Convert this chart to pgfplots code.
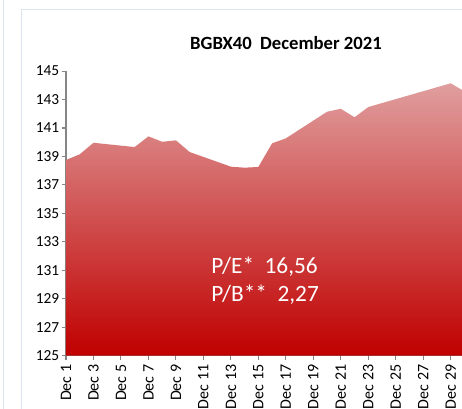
\documentclass[border=0pt]{standalone}
\usepackage{fontspec}
\setmainfont{Carlito}
\usepackage{pgfplots}
\pgfplotsset{compat=1.18}
\definecolor{topred}{RGB}{224,158,158}
\definecolor{botred}{RGB}{192,0,0}
\definecolor{axgray}{RGB}{134,134,134}
\definecolor{framec}{RGB}{218,227,238}
\begin{document}
\begin{tikzpicture}
\draw[framec, line width=0.75pt] (3pt,0) -- (3pt,-306.75pt);
\draw[framec, line width=0.75pt] (16.5pt,-306.75pt) -- (16.5pt,-7.5pt) -- (346.5pt,-7.5pt);
\begin{axis}[
  at={(49.5pt,-266.78pt)}, anchor=south west,
  scale only axis,
  width=309.15pt, height=213.5pt,
  xmin=1, xmax=31, ymin=125, ymax=145,
  axis x line*=bottom, axis y line*=left,
  axis line style={axgray, line width=1pt, -},
  tick align=outside,
  major tick length=3pt,
  tick style={axgray, line width=0.8pt},
  ytick={125,127,...,145},
  xtick={1,3,...,29},
  xticklabels={Dec 1,Dec 3,Dec 5,Dec 7,Dec 9,Dec 11,Dec 13,Dec 15,Dec 17,Dec 19,Dec 21,Dec 23,Dec 25,Dec 27,Dec 29},
  xticklabel style={rotate=90, anchor=east, font=\fontsize{12}{13}\selectfont, inner sep=3.5pt},
  yticklabel style={font=\fontsize{11.5}{12}\selectfont, inner sep=2pt},
  /pgf/number format/assume math mode=true,
  clip=false,
]
\addplot[draw=none, top color=topred, bottom color=botred] coordinates {
(1,125) (1,138.75) (2,139.15) (3,139.96) (6,139.66) (7,140.41) (8,140.03) (9,140.13)
(10,139.31) (13,138.28) (14,138.21) (15,138.26) (16,139.92) (17,140.27)
(20,142.14) (21,142.35) (22,141.75) (23,142.47) (29,144.14) (30,143.57) (30,125)
} -- cycle;
\end{axis}
\node[font=\fontsize{14}{16}\selectfont\bfseries] at (214.5pt,-32pt) {BGBX40\ \ December 2021};
\node[anchor=west, text=white, font=\fontsize{17.5}{20}\selectfont, inner sep=0pt] at (158.25pt,-200pt) {P/E*\ \ 16,56};
\node[anchor=west, text=white, font=\fontsize{17.5}{20}\selectfont, inner sep=0pt] at (158.25pt,-221.25pt) {P/B**\ \ 2,27};
\pgfresetboundingbox
\useasboundingbox (0,0) rectangle (346.5pt,-306.75pt);
\end{tikzpicture}
\end{document}
